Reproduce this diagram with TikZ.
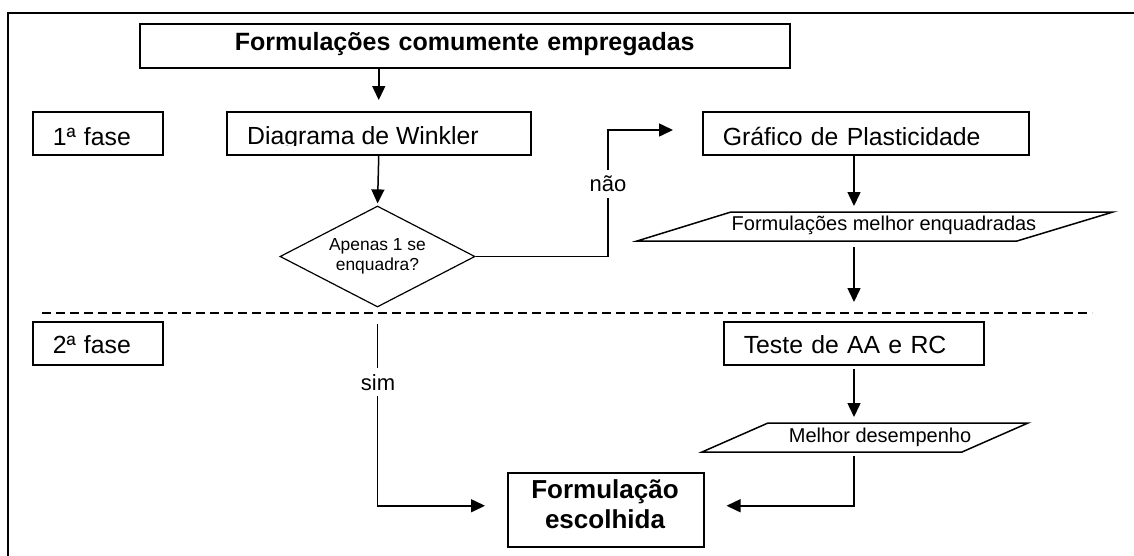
\documentclass[tikz,border=0pt]{standalone}
\usepackage{fontspec}
\setmainfont{Liberation Sans}
\usetikzlibrary{arrows.meta,shapes.geometric,calc}
\begin{document}
\begin{tikzpicture}[x=1pt,y=-1pt,
  box/.style={draw, line width=1.5pt, rectangle, inner ysep=0pt, inner xsep=20pt, anchor=north west, align=left, font=\fontsize{24.8}{29}\selectfont},
  rowa/.style={text height=33.5pt, text depth=9.5pt},
  rowb/.style={text height=32pt, text depth=11pt},
  arr/.style={line width=1.5pt, -{Triangle[length=14pt,width=13pt]}},
  lbl/.style={fill=white, inner xsep=2pt, inner ysep=6pt, font=\fontsize{22}{26}\selectfont, anchor=base},
  ptxt/.style={inner sep=0pt, anchor=base, font=\fontsize{20}{24}\selectfont},
  para/.style={line width=1.5pt},
  phase/.style={dash pattern=on 9pt off 5pt, line width=1.2pt}
]
\useasboundingbox (0,0) rectangle (1134,555);
% frame
\draw[line width=1.8pt] (1140,12.7) -- (8.3,12.7) -- (8.3,560);

% top box
\node[box, align=center, text width=610pt, text height=26.5pt, text depth=17.5pt, font=\fontsize{25}{29}\selectfont\bfseries] (top) at (139,23) {Formulações comumente empregadas};

% phase 1 row
\node[box, rowa, text width=90pt] (f1) at (32,111) {1ª fase};
\node[box, rowa, minimum width=304pt] (win) at (226,111) {};
\begin{scope}
  \clip (226,111) rectangle (530,145.5);
  \node[inner sep=0pt, anchor=base west, font=\fontsize{24.8}{29}\selectfont] (wintxt) at (247,144.5) {Diagrama de Winkler};
\end{scope}
\node[box, rowa, text width=286pt] (graf) at (702,111) {Gráfico de Plasticidade};

% decision
\node[diamond, draw, line width=1.2pt, aspect=1.93, minimum width=195pt, minimum height=101pt, inner sep=0pt, align=center, font=\fontsize{17.4}{20}\selectfont] (dia) at (377.5,256.5) {Apenas 1 se\\enquadra?};

% parallelogram 1
\draw[para] (637,241) -- (1017,241) -- (1113,212) -- (731,212) -- cycle;
\node[ptxt] (par1) at (884,230) {Formulações melhor enquadradas};
\coordinate (p1t) at (854,212);
\coordinate (p1b) at (854,241);

% phase separator
\draw[phase] (42,313) -- (1092,313);

% phase 2 row
\node[box, rowb, text width=90pt] (f2) at (32,321) {2ª fase};
\node[box, rowb, text width=220pt] (teste) at (723,321) {Teste de AA e RC};

% parallelogram 2
\draw[para] (702,452) -- (962,452) -- (1028,423) -- (768,423) -- cycle;
\node[ptxt] (par2) at (880,442) {Melhor desempenho};
\coordinate (p2t) at (854,423);
\coordinate (p2b) at (854,452);

% result
\node[draw, line width=1.5pt, minimum width=196pt, minimum height=74pt, inner sep=0pt, anchor=north west] (form) at (507,472) {};
\node[inner sep=0pt, align=center, font=\fontsize{26}{30.5}\selectfont\bfseries] (formtxt) at (605,504) {Formulação\\escolhida};

% connectors
\draw[arr, shorten >=11pt] (top.south -| win.north) -- (win.north);
\draw[arr, shorten >=2pt] (win.south) -- (dia.north);
\coordinate (nc) at (608,130);
\draw[arr, shorten >=29pt] (dia.east) -| (nc) -- (graf.west |- nc);
\draw[arr, shorten >=6pt] (graf.south -| p1t) -- (p1t);
\draw[arr, shorten <=6pt, shorten >=19pt] (p1b) -- (teste.north -| p1b);
\draw[arr, shorten <=3pt, shorten >=6pt] (teste.south -| p2t) -- (p2t);
\draw[arr, shorten <=4pt, shorten >=22pt] (p2b) |- ([yshift=4pt]form.east);
\draw[arr, shorten <=16pt, shorten >=22pt] (dia.south) |- ([yshift=4pt]form.west);

% labels
\node[lbl] (nao) at (608,191.5) {não};
\node[lbl] (sim) at (378,390) {sim};
\end{tikzpicture}
\end{document}
